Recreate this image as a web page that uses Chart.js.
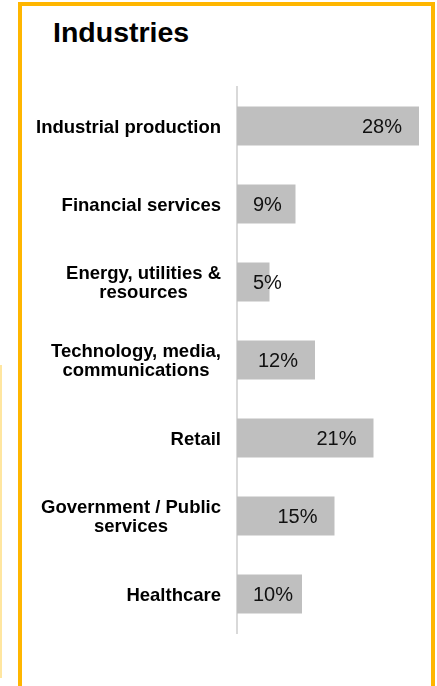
<!DOCTYPE html>
<html>
<head>
<meta charset="utf-8">
<title>Industries</title>
<script src="https://cdn.jsdelivr.net/npm/chart.js@4"></script>
<style>
html,body{
margin:0;
padding:0;
background:#fff;
}
body{
width:437px;
height:686px;
position:relative;
overflow:hidden;
font-family:"Liberation Sans",Arial,sans-serif;
}
.frame{
position:absolute;
left:18px;
top:2px;
width:409px;
height:720px;
border:4px solid #FFB600;
}
.side-line{
position:absolute;
left:0;
top:365px;
width:2px;
height:313px;
background:#FFE6A0;
}
h1{
position:absolute;
left:53px;
top:18px;
margin:0;
font-size:28.5px;
line-height:28px;
font-weight:bold;
color:#000;
}
#industryChart{
position:absolute;
left:0;
top:0;
}
</style>
</head>
<body>

<div class="side-line"></div>
<div class="frame"></div>
<h1>Industries</h1>
<canvas id="industryChart" width="437" height="686"></canvas>

<script>
// ==============================
// Industries bar chart
// ==============================

const industries = [
["Industrial production"],
["Financial services"],
["Energy, utilities &","resources"],
["Technology, media,","communications"],
["Retail"],
["Government / Public","services"],
["Healthcare"]
]

const shares = [28, 9, 5, 12, 21, 15, 10]

const xTicks = [0, 30]

const labelFont = 'bold 18.5px "Liberation Sans", Arial, sans-serif'
const valueFont = '20px "Liberation Sans", Arial, sans-serif'


// Category names, right aligned block, lines centred inside it

const categoryLabels = {

id:"categoryLabels",

afterDraw(chart){

const ctx = chart.ctx
const yScale = chart.scales.y
const right = yScale.right - 16
const lineHeight = 19.5

ctx.save()
ctx.font = labelFont
ctx.fillStyle = "#000"
ctx.textAlign = "center"
ctx.textBaseline = "middle"

chart.data.labels.forEach((lines,i)=>{

const y = yScale.getPixelForValue(i) + 1.5
const widest = Math.max(...lines.map(l=>ctx.measureText(l).width))
const cx = right - widest/2

lines.forEach((line,j)=>{
ctx.fillText(line, cx, y + (j - (lines.length-1)/2) * lineHeight)
})

})

ctx.restore()

}

}


// Percent labels near the bar end, pushed right on short bars

const valueLabels = {

id:"valueLabels",

afterDatasetsDraw(chart){

const ctx = chart.ctx
const meta = chart.getDatasetMeta(0)

ctx.save()
ctx.font = valueFont
ctx.fillStyle = "#111"
ctx.textAlign = "right"
ctx.textBaseline = "middle"

meta.data.forEach((bar,i)=>{

const text = chart.data.datasets[0].data[i] + "%"
const w = ctx.measureText(text).width
const x = Math.max(bar.x - 17, bar.base + 16 + w)

ctx.fillText(text, x, bar.y + 1)

})

ctx.restore()

}

}


// Chart

new Chart(document.getElementById("industryChart"),{

type:"bar",

data:{

labels:industries,

datasets:[{

data:shares,

backgroundColor:"#BFBFBF",

barPercentage:0.5,

categoryPercentage:1

}]

},

options:{

indexAxis:"y",

responsive:false,

animation:false,

layout:{
padding:{
top:87,
bottom:53,
left:0,
right:5
}
},

plugins:{
legend:{
display:false
},
tooltip:{
enabled:false
}
},

scales:{

x:{
display:false,
min:xTicks[0],
max:xTicks[1]
},

y:{
z:1,
ticks:{
display:false
},
grid:{
display:false
},
border:{
color:"#D9D9D9",
width:2
},
afterFit(scale){
scale.width = 237
}
}

}

},

plugins:[categoryLabels, valueLabels]

})
</script>

</body>
</html>
